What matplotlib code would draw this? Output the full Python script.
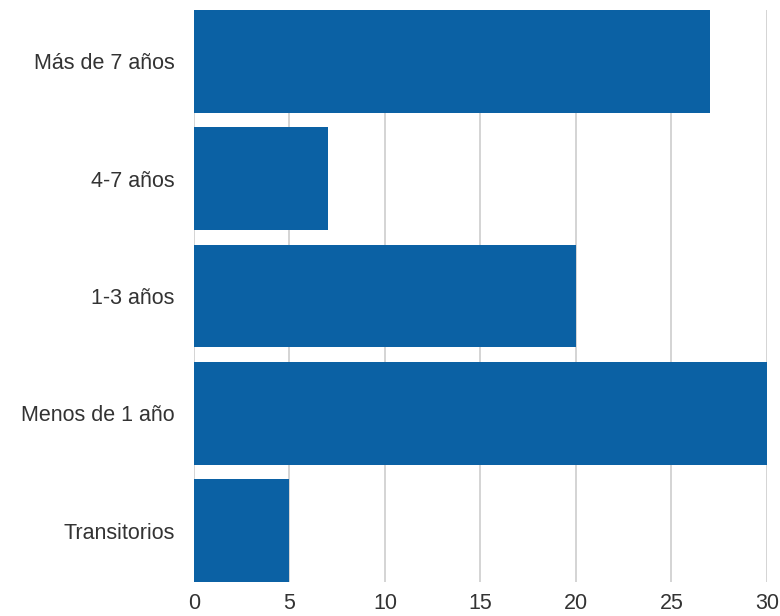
import matplotlib.pyplot as plt

categories = ['Más de 7 años', '4-7 años', '1-3 años', 'Menos de 1 año', 'Transitorios']
values = [27, 7, 20, 30, 5]
xticks = [0, 5, 10, 15, 20, 25, 30]

plt.rcParams['font.family'] = ['Liberation Sans', 'DejaVu Sans']

fig = plt.figure(figsize=(7.8, 6.16), dpi=100)
ax = fig.add_axes([0.2487, 0.0552, 0.7346, 0.9286])

pos = list(range(len(categories)))
ax.barh(pos, values, height=0.878, color='#0b61a4', zorder=2)

ax.set_ylim(len(categories) - 1 + 0.439, -0.439)
ax.set_xlim(0, 30)
ax.set_yticks(pos)
ax.set_yticklabels(categories)
ax.set_xticks(xticks)

ax.grid(axis='x', color='#d4d4d4', linewidth=1.4, zorder=0)
for s in ax.spines.values():
    s.set_visible(False)
ax.tick_params(axis='both', length=0, labelsize=15.5, colors='#333333')
ax.tick_params(axis='x', pad=8)
ax.tick_params(axis='y', pad=14)

fig.savefig('out.png', dpi=100)
